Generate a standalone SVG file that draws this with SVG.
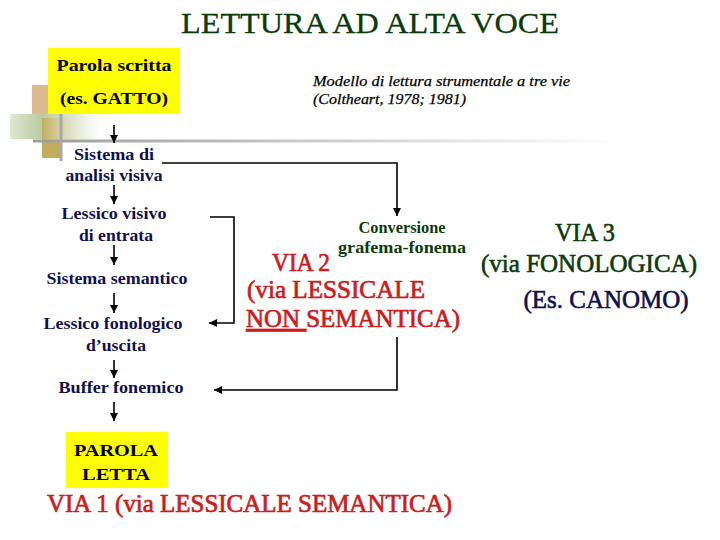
<svg xmlns="http://www.w3.org/2000/svg" width="720" height="540" viewBox="0 0 720 540">
<defs>
<linearGradient id="gGray" x1="0" y1="0" x2="1" y2="0">
<stop offset="0" stop-color="#9c9c9c"/><stop offset="0.4" stop-color="#c4c4c4"/><stop offset="1" stop-color="#ffffff"/>
</linearGradient>
<linearGradient id="gGreen" x1="0" y1="0" x2="1" y2="0">
<stop offset="0" stop-color="#dfe8d2"/><stop offset="0.35" stop-color="#b9cb9f"/><stop offset="1" stop-color="#ffffff"/>
</linearGradient>
<linearGradient id="gOlive" x1="0" y1="0" x2="1" y2="0">
<stop offset="0" stop-color="#c2ad5c"/><stop offset="1" stop-color="#ffffff" stop-opacity="0"/>
</linearGradient>
<marker id="ah" markerUnits="userSpaceOnUse" markerWidth="9" markerHeight="8" refX="8" refY="4" orient="auto">
<path d="M0,0 L8,4 L0,8 z" fill="#000"/>
</marker>
<style>
text{font-family:"Liberation Serif","Times New Roman",serif}
.n{font-weight:bold;font-size:17.5px;fill:#10104c;text-anchor:middle}
.k{font-weight:bold;font-size:17px;fill:#000;text-anchor:middle}
.g{font-weight:bold;font-size:16px;fill:#0d3a0d;text-anchor:middle}
.r{font-size:25px;fill:#cc1c1c;stroke:#cc1c1c;stroke-width:0.7}
.v3{font-size:25px;fill:#0d3a0d;stroke:#0d3a0d;stroke-width:0.6;text-anchor:middle}
.c{stroke:#000;stroke-width:1.6;fill:none}
.ar{marker-end:url(#ah)}
</style>
</defs>
<rect width="720" height="540" fill="#fff"/>
<g id="decoration">
<rect x="32" y="85" width="17" height="29" fill="#dcbb8e"/>
<rect x="10" y="114" width="90" height="25" fill="url(#gGreen)"/>
<rect x="42" y="118" width="50" height="22" fill="url(#gOlive)"/>
<rect x="42" y="140" width="20" height="18" fill="#c2ad5c"/>
<rect x="33" y="139.5" width="590" height="3" fill="url(#gGray)"/>
<rect x="59.5" y="114" width="3" height="47" fill="#a8a8a8"/>
</g>
<text x="370" y="33" font-size="30" fill="#0d3a0d" stroke="#0d3a0d" stroke-width="0.3" text-anchor="middle" textLength="378" lengthAdjust="spacingAndGlyphs">LETTURA AD ALTA VOCE</text>
<g id="parola-scritta">
<rect x="48" y="48" width="132" height="66" fill="#ffff00"/>
<text class="k" x="114" y="71" textLength="115" lengthAdjust="spacingAndGlyphs">Parola scritta</text>
<text class="k" x="114" y="104" textLength="108" lengthAdjust="spacingAndGlyphs">(es. GATTO)</text>
</g>
<g id="modello">
<text x="313" y="86" font-style="italic" font-size="15" fill="#000" stroke="#000" stroke-width="0.25" textLength="257" lengthAdjust="spacingAndGlyphs">Modello di lettura strumentale a tre vie</text>
<text x="313" y="104" font-style="italic" font-size="15" fill="#000" stroke="#000" stroke-width="0.25" textLength="153" lengthAdjust="spacingAndGlyphs">(Coltheart, 1978; 1981)</text>
</g>
<g id="sistema-analisi">
<text class="n" x="114" y="160" textLength="80" lengthAdjust="spacingAndGlyphs">Sistema di</text>
<text class="n" x="114" y="181" textLength="97" lengthAdjust="spacingAndGlyphs">analisi visiva</text>
</g>
<g id="lessico-visivo">
<text class="n" x="114" y="219" textLength="105" lengthAdjust="spacingAndGlyphs">Lessico visivo</text>
<text class="n" x="116" y="241" textLength="74" lengthAdjust="spacingAndGlyphs">di entrata</text>
</g>
<g id="sistema-semantico">
<text class="n" x="117" y="284" textLength="141" lengthAdjust="spacingAndGlyphs">Sistema semantico</text>
</g>
<g id="lessico-fonologico">
<text class="n" x="113" y="329" textLength="139" lengthAdjust="spacingAndGlyphs">Lessico fonologico</text>
<text class="n" x="116" y="351" textLength="60" lengthAdjust="spacingAndGlyphs">d’uscita</text>
</g>
<g id="buffer">
<text class="n" x="121" y="393" textLength="125" lengthAdjust="spacingAndGlyphs">Buffer fonemico</text>
</g>
<g id="parola-letta">
<rect x="66" y="432" width="102" height="56" fill="#ffff00"/>
<text class="k" x="116" y="456" font-size="19" textLength="84" lengthAdjust="spacingAndGlyphs">PAROLA</text>
<text class="k" x="116" y="480" font-size="19" textLength="68" lengthAdjust="spacingAndGlyphs">LETTA</text>
</g>
<g id="via1">
<text class="r" x="47" y="512" textLength="405" lengthAdjust="spacingAndGlyphs">VIA 1 (via LESSICALE SEMANTICA)</text>
</g>
<g id="conversione">
<text class="g" x="402" y="233" textLength="87" lengthAdjust="spacingAndGlyphs">Conversione</text>
<text class="g" x="402" y="253" textLength="128" lengthAdjust="spacingAndGlyphs">grafema-fonema</text>
</g>
<g id="via2">
<text class="r" x="272" y="271" textLength="58" lengthAdjust="spacingAndGlyphs">VIA 2</text>
<text class="r" x="247" y="298" textLength="178" lengthAdjust="spacingAndGlyphs">(via LESSICALE</text>
<text class="r" x="246" y="327" textLength="214" lengthAdjust="spacingAndGlyphs"><tspan text-decoration="underline">NON </tspan>SEMANTICA)</text>
</g>
<g id="via3">
<text class="v3" x="585" y="241" textLength="60" lengthAdjust="spacingAndGlyphs">VIA 3</text>
<text class="v3" x="589" y="272" textLength="216" lengthAdjust="spacingAndGlyphs">(via FONOLOGICA)</text>
<text class="v3" x="606" y="308" font-size="23" textLength="165" lengthAdjust="spacingAndGlyphs" style="fill:#10104c;stroke:#10104c">(Es. CANOMO)</text>
</g>
<g id="connectors">
<line class="c ar" x1="114" y1="125" x2="114" y2="143"/>
<line class="c ar" x1="114" y1="185" x2="114" y2="204"/>
<line class="c ar" x1="114" y1="245" x2="114" y2="265"/>
<line class="c ar" x1="114" y1="293" x2="114" y2="313"/>
<line class="c ar" x1="114" y1="360" x2="114" y2="378"/>
<line class="c ar" x1="114" y1="402" x2="114" y2="421"/>
<polyline class="c ar" points="162,163 397,163 397,216"/>
<polyline class="c ar" points="210,217 234,217 234,323 209,323"/>
<polyline class="c ar" points="397,337 397,390 214,390"/>
</g>
</svg>
